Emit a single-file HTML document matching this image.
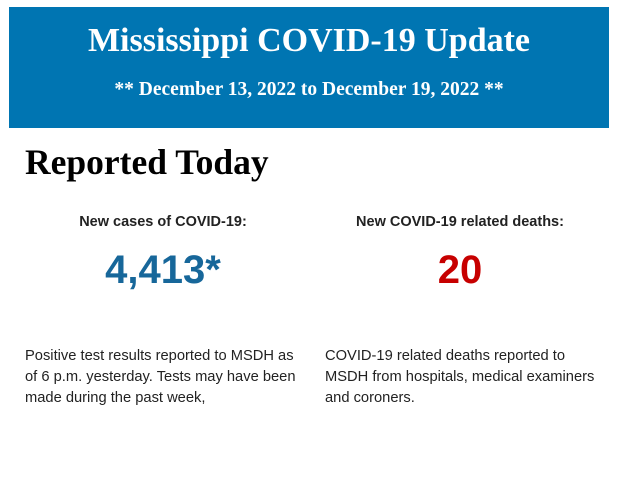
<!DOCTYPE html>
<html><head><style>
body{margin:0;width:620px;height:483px;background:#fff;position:relative;overflow:hidden}
.ban{position:absolute;left:9px;top:7px;width:600px;height:121px;background:#0075b2;color:#fff;font-family:"Liberation Serif",serif;font-weight:bold;text-align:center}
.t1{position:absolute;left:0;right:0;top:15px;font-size:34px;line-height:38px}
.t2{position:absolute;left:0;right:0;top:71px;font-size:19.5px;line-height:24px}
.h{position:absolute;left:25px;top:142px;font-family:"Liberation Serif",serif;font-weight:bold;font-size:35.5px;line-height:40px}
.lab{position:absolute;top:214px;width:300px;text-align:center;font-family:"Liberation Sans",sans-serif;font-weight:bold;font-size:14.5px;color:#222}
.num{position:absolute;top:247px;width:300px;text-align:center;font-family:"Liberation Sans",sans-serif;font-weight:bold;font-size:40px;line-height:46px}
.p{position:absolute;top:346px;width:272px;font-family:"Liberation Sans",sans-serif;font-size:14.7px;line-height:21px;color:#222}
</style></head><body>
<div class="ban"><div class="t1">Mississippi COVID-19 Update</div><div class="t2">** December 13, 2022 to December 19, 2022 **</div></div>
<div class="h">Reported Today</div>
<div class="lab" style="left:13px">New cases of COVID-19:</div>
<div class="lab" style="left:310px">New COVID-19 related deaths:</div>
<div class="num" style="left:13px;color:#17679a">4,413*</div>
<div class="num" style="left:310px;color:#c70000">20</div>
<div class="p" style="left:25px">Positive test results reported to MSDH as of 6 p.m. yesterday. Tests may have been made during the past week,</div>
<div class="p" style="left:325px">COVID-19 related deaths reported to MSDH from hospitals, medical examiners and coroners.</div>
</body></html>
